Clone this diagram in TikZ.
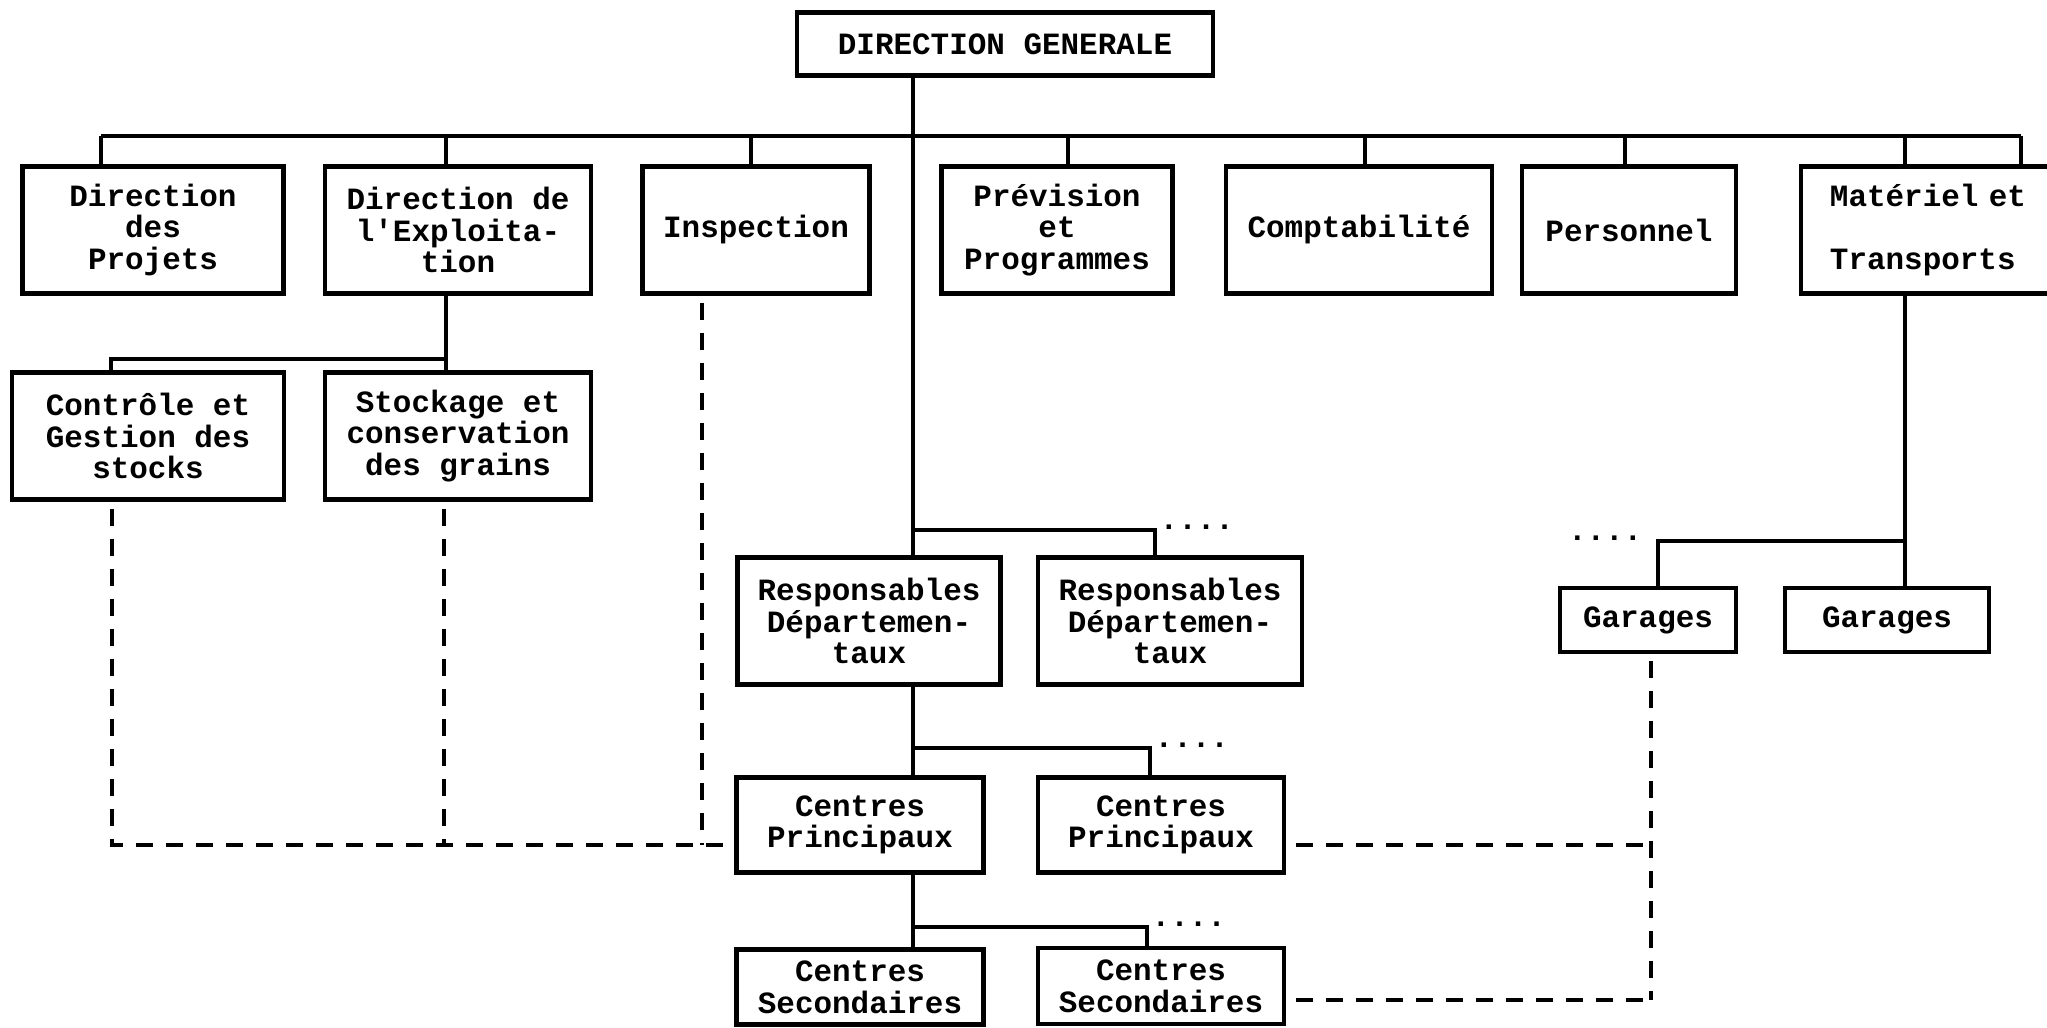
\documentclass[tikz,border=0pt]{standalone}
\usepackage{fontspec}
\setmonofont{Liberation Mono}
\usepackage{tikz}

\begin{document}
\begin{tikzpicture}[
    x=0.01cm, y=-0.01cm,
    font=\ttfamily\bfseries\fontsize{8.8}{9}\selectfont,
    unitbox/.style={draw, rectangle, line width=1.2pt, inner sep=0pt, align=center},
    tallbox/.style={unitbox, minimum height=1.27cm},
    midbox/.style={unitbox, minimum height=0.95cm},
    lowbox/.style={unitbox, minimum height=0.64cm},
    link/.style={line width=1.2pt},
    dashlink/.style={line width=1.2pt, dash pattern=on 0.17cm off 0.13cm},
    dotsnode/.style={inner sep=0pt, font=\ttfamily\bfseries\fontsize{8.8}{9}\selectfont}
  ]

  \useasboundingbox (0,0) rectangle (2047,1028);

  \node (dg) [unitbox, minimum width=4.15cm, minimum height=0.63cm] at (1005,44) {DIRECTION GENERALE};

  \node (projets) [tallbox, minimum width=2.61cm] at (153,230) {Direction\\des\\Projets};
  \node (exploit) [tallbox, minimum width=2.66cm] at (458,230) {Direction de\\l\textquotesingle Exploita-\\tion};
  \node (inspect) [tallbox, minimum width=2.27cm] at (756,230) {Inspection};
  \node (prevision) [tallbox, minimum width=2.31cm] at (1057,230) {Prévision\\et\\Programmes};
  \node (compta) [tallbox, minimum width=2.66cm] at (1359,230) {Comptabilité};
  \node (perso) [tallbox, minimum width=2.14cm] at (1629,230) {Personnel};
  \node (materiel) [tallbox, text width=2.5cm, inner xsep=0.29cm, align=left] at (1955,230) {Matériel et\\[9pt]Transports};

  \node (controle) [tallbox, minimum width=2.72cm] at (148,436) {Contrôle et\\Gestion des\\stocks};
  \node (stockage) [tallbox, minimum width=2.66cm] at (458,436) {Stockage et\\conservation\\des grains};

  \node (resp1) [tallbox, minimum width=2.63cm] at (869,621) {Responsables\\Départemen-\\taux};
  \node (resp2) [tallbox, minimum width=2.64cm] at (1170,621) {Responsables\\Départemen-\\taux};
  \node (gar1) [lowbox, minimum width=1.76cm] at (1648,620) {Garages};
  \node (gar2) [lowbox, minimum width=2.04cm] at (1887,620) {Garages};

  \node (cp1) [midbox, minimum width=2.47cm] at (860,825) {Centres\\Principaux};
  \node (cp2) [midbox, minimum width=2.46cm] at (1161,825) {Centres\\Principaux};
  \node (cs1) [unitbox, minimum width=2.47cm, minimum height=0.75cm] at (860,987) {Centres\\Secondaires};
  \node (cs2) [unitbox, minimum width=2.46cm, minimum height=0.76cm] at (1161,986) {Centres\\Secondaires};

  \coordinate (trunk) at (913,136);
  \coordinate (busl) at (101,136);
  \coordinate (busr) at (2021,136);
  \coordinate (bexploit) at (446,136);
  \coordinate (binspect) at (751,136);
  \coordinate (bprevision) at (1068,136);
  \coordinate (bcompta) at (1365,136);
  \coordinate (bperso) at (1625,136);
  \coordinate (bmateriel) at (1905,136);

  \draw[link] (trunk |- dg.south) -- (trunk |- resp1.north);
  \draw[link] (trunk |- resp1.south) -- (trunk |- cp1.north);
  \draw[link] (trunk |- cp1.south) -- (trunk |- cs1.north);

  \draw[link] (busl) -- (busr);
  \draw[link] (busl) -- (busl |- projets.north);
  \draw[link] (bexploit) -- (bexploit |- exploit.north);
  \draw[link] (binspect) -- (binspect |- inspect.north);
  \draw[link] (bprevision) -- (bprevision |- prevision.north);
  \draw[link] (bcompta) -- (bcompta |- compta.north);
  \draw[link] (bperso) -- (bperso |- perso.north);
  \draw[link] (bmateriel) -- (bmateriel |- materiel.north);
  \draw[link] (busr) -- (busr |- materiel.north);

  \coordinate (sub) at (446,359);
  \coordinate (subl) at (111,359);
  \draw[link] (sub |- exploit.south) -- (sub) -- (subl) -- (subl |- controle.north);
  \draw[link] (sub) -- (sub |- stockage.north);

  \coordinate (rbr) at (1155,530);
  \draw[link] (trunk |- rbr) -- (rbr) -- (rbr |- resp2.north);
  \node (rdots) [dotsnode, anchor=base west] at ([xshift=0.04cm]rbr) {....};

  \coordinate (gbr) at (1905,541);
  \coordinate (gbl) at (1658,541);
  \draw[link] (gbr |- materiel.south) -- (gbr |- gar2.north);
  \draw[link] (gbr) -- (gbl) -- (gbl |- gar1.north);
  \node (gdots) [dotsnode, anchor=base east] at ([xshift=-0.15cm]gbl) {....};

  \coordinate (cpbr) at (1150,748);
  \draw[link] (trunk |- cpbr) -- (cpbr) -- (cpbr |- cp2.north);
  \node (cpdots) [dotsnode, anchor=base west] at ([xshift=0.04cm]cpbr) {....};

  \coordinate (csbr) at (1147,927);
  \draw[link] (trunk |- csbr) -- (csbr) -- (csbr |- cs2.north);
  \node (csdots) [dotsnode, anchor=base west] at ([xshift=0.04cm]csbr) {....};

  \coordinate (dl) at (112,845);
  \coordinate (ds) at (444,845);
  \coordinate (di) at (702,845);
  \draw[dashlink, shorten <=0.07cm] (dl |- controle.south) -- (dl) -- (cp1.west |- dl);
  \draw[dashlink, shorten <=0.07cm] (ds |- stockage.south) -- (ds);
  \draw[dashlink, shorten <=0.07cm] (di |- inspect.south) -- (di);

  \coordinate (dg1) at (1651,845);
  \coordinate (dg2) at (1651,1000);
  \draw[dashlink, shorten <=0.07cm] (dg1 |- gar1.south) -- (dg2);
  \draw[dashlink, shorten <=0.1cm] (cp2.east |- dg1) -- (dg1);
  \draw[dashlink, shorten <=0.1cm] (cs2.east |- dg2) -- (dg2);

\end{tikzpicture}
\end{document}
